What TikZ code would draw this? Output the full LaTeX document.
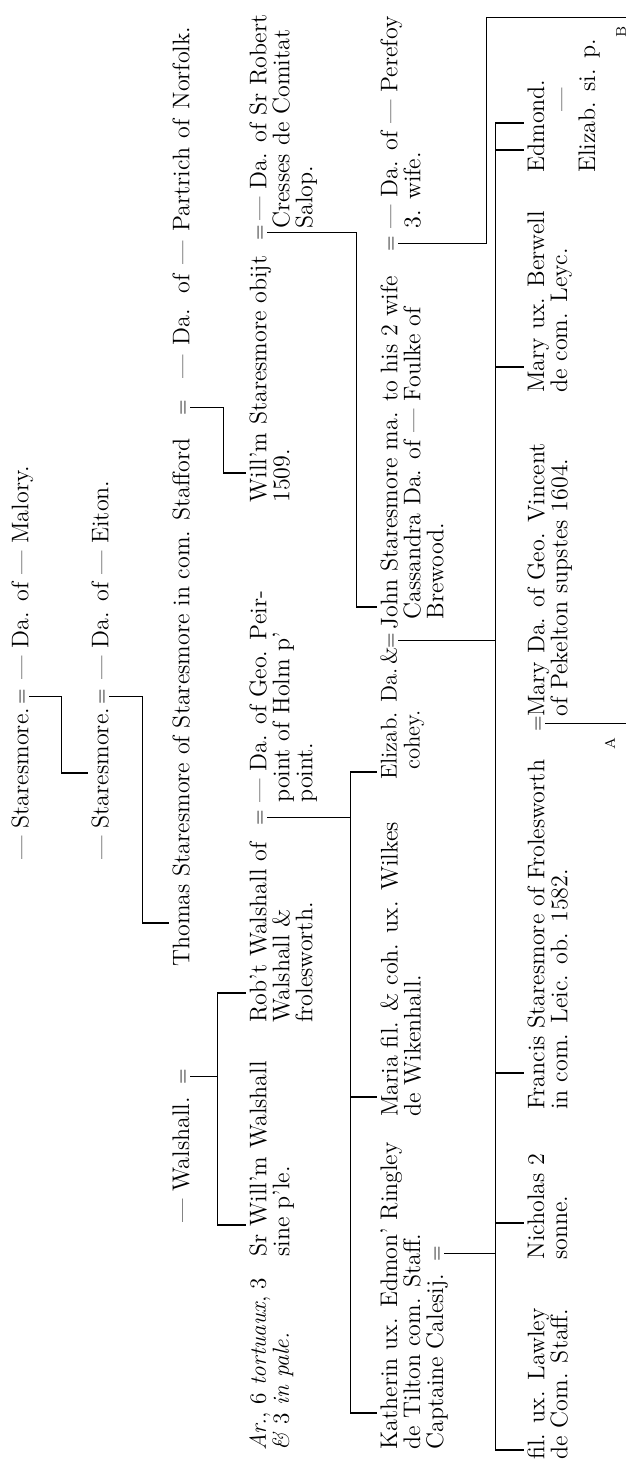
\documentclass[tikz,border=0pt]{standalone}
\usepackage{fontspec}
\newcommand{\pedfont}{\fontsize{12}{11.5}\selectfont}
\begin{document}
\begin{tikzpicture}[x=0.5pt, y=0.5pt,
    person/.style={anchor=north west, inner sep=0pt, align=left, font=\pedfont},
    wed/.style={anchor=base, inner sep=1pt, font=\fontsize{10}{10}\selectfont},
    link/.style={line width=0.5pt},
    childtick/.style={line width=1.3pt, shorten >=1.5pt},
    cont/.style={inner sep=0pt, font=\fontsize{7}{8}\selectfont}]
  \useasboundingbox (0,0) rectangle (626,1469);
  \begin{scope}[rotate=90, transform shape]
    % Row 1 and 2: the two first generations
    \node[person] (st1) at (609,-11) {— Staresmore.};
    \node[wed] (eq1) at (772,-27) {=};
    \node[person] (sp1) at (789,-11) {— Da. of — Malory.};
    \node[person] (st2) at (609,-91) {— Staresmore.};
    \node[wed] (eq2) at (772,-107) {=};
    \node[person] (sp2) at (789,-91) {— Da. of — Eiton.};
    \coordinate (j1) at (696,-61);
    \draw[link] (eq1.south) |- (j1);
    \draw[childtick] (j1) -- (j1 |- st2.north);
    \coordinate (j2) at (546,-142);
    \draw[link] (eq2.south) |- (j2);
    % Row 3: Thomas and Walshall
    \node[person] (thomas) at (502,-172) {\makebox[264pt][s]{Thomas Staresmore of Staresmore in com. Stafford}};
    \node[wed] (eq3) at (1061,-188) {=};
    \node[person] (sp3) at (1090,-172) {\makebox[176pt][s]{— Da. of — Partrich of Norfolk.}};
    \draw[childtick] (j2) -- (j2 |- thomas.north);
    \node[person] (walsh) at (246,-172) {— Walshall.};
    \node[wed] (eqW) at (392,-188) {=};
    % Row 4
    \node[person, font=\fontsize{11.6}{11.5}\selectfont] (arms) at (18,-249) {\textit{Ar.}, 6 \textit{tortuaux}, 3\\\textit{\&} 3 \textit{in pale.}};
    \node[person] (sirw) at (212,-249) {Sr Will'm Walshall\\sine p'le.};
    \node[person] (robt) at (446,-249) {Rob't Walshall of\\Walshall \&\\frolesworth.};
    \node[wed] (eqR) at (651,-265) {=};
    \node[person] (spR) at (666,-249) {— Da. of Geo. Peir-\\point of Holm p'\\point.};
    \node[person] (willm) at (966,-249) {Will'm Staresmore obijt\\1509.};
    \node[wed] (eqWm) at (1236,-265) {=};
    \node[person] (spWm) at (1240,-249) {\hspace*{4pt}— Da. of Sr Robert\\Cresses de Comitat\\Salop.};
    \coordinate (j3) at (996,-223);
    \draw[link] (eq3.south) |- (j3);
    \draw[childtick] (j3) -- (j3 |- willm.north);
    \coordinate (w1) at (244,-217);
    \coordinate (w2) at (476,-217);
    \draw[link] (eqW.south) -- (eqW.south |- w1);
    \draw[link] (w1) -- (w2);
    \draw[childtick] (w1) -- (w1 |- sirw.north);
    \draw[childtick] (w2) -- (w2 |- robt.north);
    % Row 5
    \node[person] (kath) at (19,-380) {Katherin ux. Edmon' Ringley\\de Tilton com. Staff.\\Captaine Calesij.};
    \node[wed] (eqK) at (215,-442) {=};
    \node[person] (maria) at (352,-380) {Maria fil. \& coh. ux. Wilkes\\de Wikenhall.};
    \node[person, font=\fontsize{11.4}{11.5}\selectfont] (eliz) at (689,-380) {Elizab. Da.\,\&\\\hspace*{5pt}cohey.};
    \node[wed] (eqE) at (828,-396) {=};
    \node[person] (john) at (839,-380) {John Staresmore ma. to his 2 wife\\\hspace*{5pt}Cassandra Da. of — Foulke of\\\hspace*{5pt}Brewood.};
    \node[wed] (eqJ) at (1225,-396) {=};
    \node[person] (spJ) at (1240,-380) {— Da. of — Perefoy\\3. wife.};
    \coordinate (r1) at (56,-350);
    \coordinate (r2) at (372,-350);
    \coordinate (r3) at (697,-350);
    \draw[link] (eqR.south) -- (eqR.south |- r3);
    \draw[link] (r1) -- (r3);
    \draw[childtick] (r1) -- (r1 |- kath.north);
    \draw[childtick] (r2) -- (r2 |- maria.north);
    \draw[childtick] (r3) -- (r3 |- eliz.north);
    \coordinate (j4) at (862,-356);
    \draw[link] (eqWm.south) |- (j4);
    \draw[childtick] (j4) -- (j4 |- john.north);
    % Row 6: the children
    \node[person] (fil) at (9,-527) {fil. ux. Lawley\\de Com. Staff.};
    \node[person] (nich) at (209,-527) {Nicholas 2\\sonne.};
    \node[person] (franc) at (359,-527) {Francis Staresmore of Frolesworth\\in com. Leic. ob. 1582.};
    \node[wed] (eqF) at (745,-543) {=};
    \node[person] (maryV) at (752,-527) {Mary Da. of Geo. Vincent\\of Pekelton supstes 1604.};
    \node[person] (maryB) at (1076,-527) {Mary ux. Berwell\\de com. Leyc.};
    \node[person] (edm) at (1296,-527) {Edmond.};
    \node[person] (elizsp) at (1296,-578) {Elizab. si. p.};
    \node[inner sep=0pt, font=\pedfont] (dsh) at (1369,-565) {—};
    \coordinate (m1) at (19,-495);
    \coordinate (m2) at (246,-495);
    \coordinate (m3) at (396,-495);
    \coordinate (m4) at (1102,-495);
    \coordinate (m5) at (1319,-495);
    \coordinate (m6) at (1346,-495);
    \draw[link] (m1) -- (m6);
    \draw[link] (eqE.south) -- (eqE.south |- m1);
    \draw[link] (eqK.south) -- (eqK.south |- m1);
    \draw[childtick] (m1) -- (m1 |- fil.north);
    \draw[childtick] (m2) -- (m2 |- nich.north);
    \draw[childtick] (m3) -- (m3 |- franc.north);
    \draw[childtick] (m4) -- (m4 |- maryB.north);
    \draw[childtick] (m5) -- (m5 |- edm.north);
    \draw[childtick] (m6) -- (m6 |- edm.north);
    % lines running on to the next page
    \coordinate (A0) at (747,-626);
    \draw[link] (eqF.south) -- (eqF.south |- A0);
    \node[cont] (la) at (725,-610) {A};
    \coordinate (b1) at (1451,-486);
    \coordinate (B0) at (1451,-626);
    \draw[link] (eqJ.south) |- (b1) -- (B0);
    \node[cont] (lb) at (1437,-621) {B};
  \end{scope}
\end{tikzpicture}
\end{document}
